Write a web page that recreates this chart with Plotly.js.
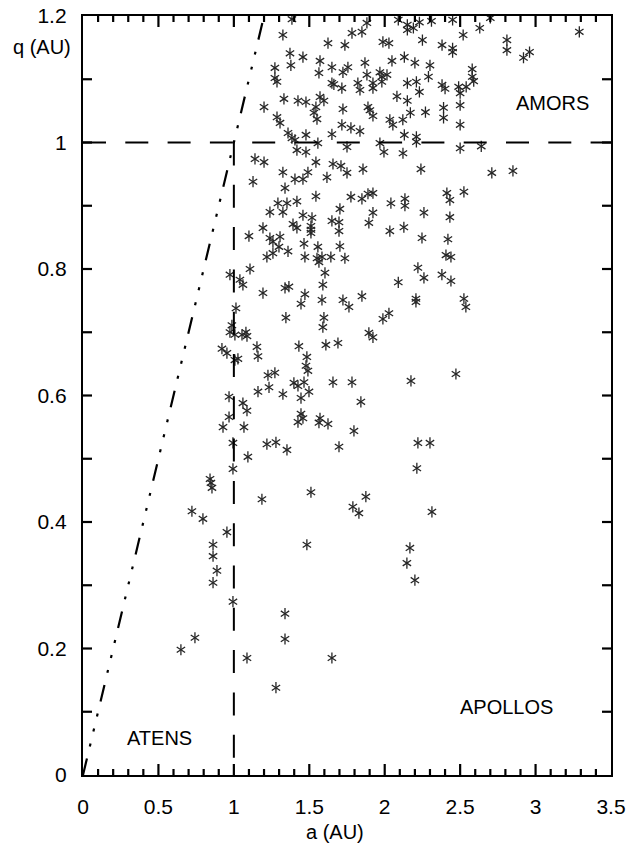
<!DOCTYPE html>
<html>
<head>
<meta charset="utf-8">
<script src="https://cdn.plot.ly/plotly-3.0.1.min.js"></script>
<style>html,body{margin:0;padding:0;background:#fff}#chart{width:629px;height:848px}</style>
</head>
<body>
<div id="chart"></div>
<script>
// Near-Earth asteroids: semi-major axis a (AU) vs perihelion distance q (AU)
const semiMajorAxis = [
 2.09,2.15,2.15,2.19,2.23,2.31,2.45,2.70,2.63,2.52,2.25,2.38,2.45,2.45,2.81,2.81,2.92,2.96,3.29,2.13,
 2.20,2.30,2.29,2.58,2.58,2.59,2.15,2.21,2.23,2.15,2.38,2.40,2.49,2.50,2.54,2.17,2.27,2.39,2.50,2.12,
 2.39,2.50,2.13,2.21,2.21,2.64,2.50,
 1.385,1.325,1.624,1.736,1.783,1.849,1.882,1.988,2.028,1.372,1.458,1.571,1.869,2.048,1.272,1.378,1.650,1.723,1.756,1.564,
 1.882,1.968,1.981,2.015,1.272,1.286,1.650,1.663,1.716,1.822,1.836,1.922,1.922,1.981,2.081,1.332,1.425,1.478,1.571,1.597,
 1.200,1.544,1.531,1.723,1.889,1.902,1.922,1.286,1.306,1.551,1.716,1.776,1.836,2.034,2.054,1.359,1.385,1.405,1.478,1.650,
 1.557,1.968,1.750,
 1.418,1.478,1.995,1.140,1.200,1.544,1.657,1.710,1.856,1.325,1.491,1.405,1.458,1.617,1.750,1.127,1.339,1.544,1.776,1.849,
 1.889,1.922,2.041,1.292,1.352,1.418,1.239,1.325,1.458,1.518,1.703,1.922,1.650,1.697,1.895,1.392,1.418,1.511,1.511,1.511,
 1.697,2.034,1.193,1.100,1.239,1.306,1.259,1.299,1.465,1.557,1.703,1.359,1.259,1.219,1.471,1.551,1.584,1.564,1.643,1.736,
 1.604,1.107,0.974,1.040,1.060,1.590,1.193,1.339,1.365,1.471,1.584,1.723,1.849,2.090,
 2.121,2.240,2.710,2.850,2.412,2.525,2.432,2.134,2.134,2.260,2.432,2.127,2.247,2.419,2.406,2.439,2.220,2.260,2.379,2.439,
 2.207,2.525,
 1.445,1.763,1.014,1.345,1.597,1.590,1.988,2.028,0.987,0.974,1.007,1.054,1.080,1.087,1.895,1.922,1.431,1.610,1.690,0.921,
 0.954,1.153,1.160,1.007,1.027,1.484,1.478,1.491,1.226,1.272,1.398,1.425,1.465,1.657,1.783,1.233,1.160,1.325,1.498,1.445,
 1.842,0.968,1.060,1.087,0.968,0.928,1.067,1.445,1.458,1.425,1.571,1.564,1.624,1.796,0.994,1.219,1.279,1.697,1.352,
 2.207,2.538,2.174,2.472,2.220,2.300,
 1.093,0.994,0.842,0.848,0.855,1.186,0.722,0.795,0.954,0.862,0.862,0.888,0.862,0.994,
 2.213,1.511,1.875,1.789,1.829,2.313,1.484,2.167,2.147,2.200,1.339,
 0.742,0.649,1.087,1.339,1.650,1.279
];
const perihelion = [
 1.194,1.186,1.178,1.181,1.190,1.192,1.194,1.197,1.181,1.170,1.162,1.154,1.149,1.143,1.162,1.146,1.134,1.143,1.175,1.135,
 1.126,1.122,1.104,1.116,1.104,1.097,1.094,1.096,1.080,1.066,1.091,1.085,1.088,1.078,1.088,1.047,1.048,1.055,1.059,1.036,
 1.039,1.028,1.012,1.009,1.001,0.994,0.991,
 1.195,1.170,1.157,1.154,1.173,1.175,1.189,1.159,1.157,1.141,1.135,1.129,1.126,1.129,1.118,1.122,1.119,1.111,1.119,1.110,
 1.107,1.111,1.104,1.107,1.102,1.096,1.094,1.092,1.086,1.094,1.083,1.094,1.086,1.096,1.073,1.069,1.066,1.064,1.072,1.066,
 1.056,1.056,1.047,1.053,1.056,1.051,1.042,1.040,1.031,1.037,1.028,1.023,1.018,1.036,1.028,1.015,1.007,1.004,1.012,1.013,
 0.999,0.999,0.993,
 0.988,0.985,0.985,0.974,0.969,0.969,0.966,0.963,0.958,0.953,0.953,0.942,0.942,0.945,0.952,0.938,0.928,0.915,0.914,0.911,
 0.919,0.920,0.904,0.904,0.904,0.907,0.890,0.890,0.885,0.881,0.895,0.889,0.876,0.874,0.873,0.871,0.865,0.868,0.862,0.857,
 0.860,0.860,0.865,0.852,0.849,0.851,0.843,0.835,0.840,0.835,0.836,0.828,0.825,0.819,0.819,0.817,0.819,0.811,0.819,0.817,
 0.794,0.800,0.791,0.783,0.775,0.775,0.762,0.770,0.772,0.760,0.751,0.751,0.757,0.779,
 0.983,0.958,0.952,0.955,0.920,0.922,0.909,0.911,0.900,0.889,0.882,0.866,0.849,0.847,0.822,0.819,0.802,0.786,0.791,0.781,
 0.753,0.753,
 0.745,0.740,0.738,0.723,0.723,0.708,0.721,0.730,0.711,0.700,0.696,0.696,0.700,0.694,0.699,0.692,0.678,0.680,0.683,0.674,
 0.667,0.677,0.662,0.656,0.658,0.661,0.647,0.639,0.632,0.636,0.620,0.615,0.621,0.621,0.621,0.613,0.606,0.602,0.606,0.596,
 0.590,0.598,0.588,0.576,0.566,0.550,0.550,0.571,0.564,0.558,0.564,0.557,0.555,0.544,0.525,0.523,0.526,0.519,0.514,
 0.748,0.740,0.623,0.634,0.525,0.525,
 0.503,0.484,0.468,0.462,0.454,0.436,0.417,0.405,0.384,0.364,0.346,0.323,0.304,0.274,
 0.485,0.447,0.440,0.424,0.414,0.416,0.364,0.359,0.335,0.308,0.255,
 0.217,0.198,0.185,0.215,0.185,0.138
];

// Boundary lines between the groups
const atenLineA = [0, 1.2];      // q = a
const atenLineQ = [0, 1.2];
const amorLineA = [0, 3.5];      // q = 1.0 AU
const amorLineQ = [1, 1];
const apolloLineA = [1, 1];      // a = 1.0 AU
const apolloLineQ = [1, 0];

const regionNames = ['AMORS', 'APOLLOS', 'ATENS'];
const regionA = [3.11, 2.81, 0.51];
const regionQ = [1.062, 0.108, 0.058];

const xTickVals = [0, 0.5, 1, 1.5, 2, 2.5, 3, 3.5];
const xTickText = ['0', '0.5', '1', '1.5', '2', '2.5', '3', '3.5'];
const yTickVals = [0, 0.2, 0.4, 0.6, 0.8, 1, 1.2];
const yTickText = ['0', '0.2', '0.4', '0.6', '0.8', '1', '1.2'];
const minorStep = 0.1;

const font = 'Liberation Sans, Arial, sans-serif';
const W = 629, H = 848;
const M = {l: 83, r: 18, t: 16, b: 73};
const plotW = W - M.l - M.r, plotH = H - M.t - M.b;

const n = semiMajorAxis.length;
const symbols = Array(n).fill('y-up-open').concat(Array(n).fill('y-down-open'));
const traces = [{
  type: 'scatter', mode: 'markers',
  x: semiMajorAxis.concat(semiMajorAxis),
  y: perihelion.concat(perihelion),
  marker: {symbol: symbols, color: '#262626', size: 7, line: {color: '#262626', width: 1.3}}
}];

function lineShape(xs, ys, width, dash) {
  return {type: 'line', xref: 'x', yref: 'y', x0: xs[0], y0: ys[0], x1: xs[1], y1: ys[1],
          layer: 'above', line: {color: '#000', width: width, dash: dash}};
}
const shapes = [
  lineShape(atenLineA, atenLineQ, 2.2, '17px,12.4px,3px,12.4px,3px,12.4px,3px,12.4px'),
  lineShape(amorLineA, amorLineQ, 2, '23px,19.3px'),
  lineShape(apolloLineA, apolloLineQ, 2, '23px,19.3px')
];

// Inside tick marks on all four sides (major + minor), placed on the axis scales
const xMax = 3.5, yMax = 1.2;
for (let i = 1; i < Math.round(xMax / minorStep); i++) {
  const v = Math.round(i * minorStep * 100) / 100;
  const major = xTickVals.some(t => Math.abs(t - v) < 1e-9);
  const len = (major ? 11 : 6) / plotH, w = 2.2;
  shapes.push({type: 'line', xref: 'x', yref: 'paper', x0: v, x1: v, y0: 0, y1: len, layer: 'above', line: {color: '#000', width: w}});
  shapes.push({type: 'line', xref: 'x', yref: 'paper', x0: v, x1: v, y0: 1, y1: 1 - len, layer: 'above', line: {color: '#000', width: w}});
}
for (let i = 1; i < Math.round(yMax / minorStep); i++) {
  const v = Math.round(i * minorStep * 100) / 100;
  const len = 9 / plotW;
  shapes.push({type: 'line', xref: 'paper', yref: 'y', x0: 0, x1: len, y0: v, y1: v, layer: 'above', line: {color: '#000', width: 2.2}});
  shapes.push({type: 'line', xref: 'paper', yref: 'y', x0: 1, x1: 1 - len, y0: v, y1: v, layer: 'above', line: {color: '#000', width: 2.2}});
}

const annotations = regionNames.map((t, i) => ({
  x: regionA[i], y: regionQ[i], xref: 'x', yref: 'y', text: t, showarrow: false,
  xanchor: 'center', yanchor: 'middle',
  font: {family: font, size: 20, color: '#000'}
}));
annotations.push({xref: 'paper', yref: 'paper', x: -0.078, y: 0.959, text: 'q (AU)', showarrow: false,
  xanchor: 'center', yanchor: 'middle', font: {family: font, size: 20, color: '#000'}});
annotations.push({xref: 'paper', yref: 'paper', x: 0.477, y: -0.075, text: 'a (AU)', showarrow: false,
  xanchor: 'center', yanchor: 'middle', font: {family: font, size: 20, color: '#000'}});

const layout = {
  width: W, height: H,
  margin: M,
  showlegend: false,
  xaxis: {
    range: [0, xMax], showline: true, linecolor: '#000', linewidth: 2.2, mirror: true,
    ticks: '', showgrid: false, zeroline: false, ticklabelstandoff: 12,
    tickvals: xTickVals, ticktext: xTickText,
    tickfont: {family: font, size: 21, color: '#000'}
  },
  yaxis: {
    range: [0, yMax], showline: true, linecolor: '#000', linewidth: 2.2, mirror: true,
    ticks: '', showgrid: false, zeroline: false, ticklabelstandoff: 10,
    tickvals: yTickVals, ticktext: yTickText,
    tickfont: {family: font, size: 21, color: '#000'}
  },
  shapes: shapes,
  annotations: annotations
};

Plotly.newPlot('chart', traces, layout, {staticPlot: true});
</script>
</body>
</html>
